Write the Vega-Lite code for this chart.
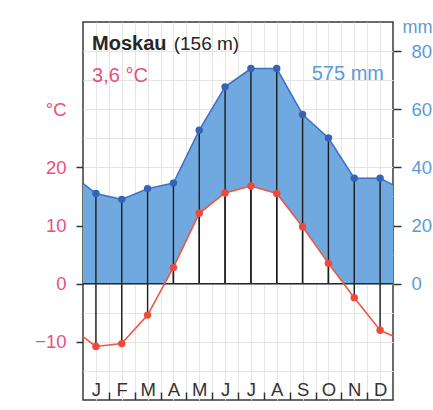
{
  "$schema": "https://vega.github.io/schema/vega-lite/v6.json",
  "width": 310,
  "height": 378,
  "autosize": "none",
  "padding": {"left": 83, "top": 22, "right": 40, "bottom": 10},
  "background": "white",
  "config": {"view": {"stroke": "#3a3a3a", "strokeWidth": 1.5}, "font": "Liberation Sans"},
  "datasets": {
    "climate": [
      {"m": 0.5, "kind": "edge", "T": -9.1, "P": 34.5},
      {"m": 1, "kind": "month", "month": "Jan", "T": -10.8, "P": 31},
      {"m": 2, "kind": "month", "month": "Feb", "T": -10.3, "P": 29},
      {"m": 3, "kind": "month", "month": "Mar", "T": -5.4, "P": 32.7},
      {"m": 4, "kind": "month", "month": "Apr", "T": 2.8, "P": 34.6},
      {"m": 5, "kind": "month", "month": "May", "T": 12.1, "P": 52.8},
      {"m": 6, "kind": "month", "month": "Jun", "T": 15.6, "P": 67.7},
      {"m": 7, "kind": "month", "month": "Jul", "T": 16.8, "P": 74},
      {"m": 8, "kind": "month", "month": "Aug", "T": 15.5, "P": 74},
      {"m": 9, "kind": "month", "month": "Sep", "T": 9.8, "P": 58.2},
      {"m": 10, "kind": "month", "month": "Oct", "T": 3.5, "P": 50.1},
      {"m": 11, "kind": "month", "month": "Nov", "T": -2.4, "P": 36.3},
      {"m": 12, "kind": "month", "month": "Dec", "T": -8.0, "P": 36.3},
      {"m": 12.5, "kind": "edge", "T": -9.0, "P": 34}
    ]
  },
  "data": {"name": "climate"},
  "layer": [
    {
      "mark": {"type": "area", "fill": "#6fa9e0", "strokeWidth": 0},
      "encoding": {
        "x": {"field": "m", "type": "quantitative", "scale": {"domain": [0.5, 12.5], "nice": false, "zero": false},
          "axis": {"values": [1, 1.5, 2, 2.5, 3, 3.5, 4, 4.5, 5, 5.5, 6, 6.5, 7, 7.5, 8, 8.5, 9, 9.5, 10, 10.5, 11, 11.5, 12], "labelExpr": "datum.value % 1 == 0 ? ['J','F','M','A','M','J','J','A','S','O','N','D'][datum.value - 1] : ''", "labelOverlap": false, "labelFlush": false, "labelPadding": 3, "labelBaseline": "alphabetic", "labelColor": "#333333", "labelFontSize": 18.5, "labelFont": "Liberation Sans", "tickSize": -8, "tickColor": "#333333", "tickWidth": 1.5, "tickOpacity": {"condition": {"test": "datum.value % 1 == 0", "value": 0}, "value": 1}, "grid": true, "gridColor": "#e4e4e4", "gridWidth": 1, "domain": false, "title": null}},
        "y": {"field": "P", "type": "quantitative", "scale": {"domain": [-40, 90], "nice": false, "zero": false},
          "axis": {"orient": "right", "values": [0, 20, 40, 60, 80], "title": "mm", "titleAngle": 0, "titleAlign": "left",
            "titleBaseline": "middle", "titleX": 9, "titleY": 5, "titleColor": "#5d9bd8", "titleFont": "Liberation Sans",
            "titleFontSize": 18, "titleFontWeight": "normal", "labelColor": "#5d9bd8", "labelFontSize": 18.5,
            "labelFont": "Liberation Sans", "labelPadding": 10, "tickSize": 8, "tickColor": "#333333", "tickWidth": 1.5,
            "domain": false, "grid": false}},
        "y2": {"datum": 0}
      }
    },
    {
      "transform": [{"filter": "datum.T > -6"}],
      "mark": {"type": "area", "fill": "white", "strokeWidth": 0},
      "encoding": {
        "x": {"field": "m", "type": "quantitative", "scale": {"domain": [0.5, 12.5], "nice": false, "zero": false},
          "axis": {"values": [1, 1.5, 2, 2.5, 3, 3.5, 4, 4.5, 5, 5.5, 6, 6.5, 7, 7.5, 8, 8.5, 9, 9.5, 10, 10.5, 11, 11.5, 12], "labelExpr": "datum.value % 1 == 0 ? ['J','F','M','A','M','J','J','A','S','O','N','D'][datum.value - 1] : ''", "labelOverlap": false, "labelFlush": false, "labelPadding": 3, "labelBaseline": "alphabetic", "labelColor": "#333333", "labelFontSize": 18.5, "labelFont": "Liberation Sans", "tickSize": -8, "tickColor": "#333333", "tickWidth": 1.5, "tickOpacity": {"condition": {"test": "datum.value % 1 == 0", "value": 0}, "value": 1}, "grid": true, "gridColor": "#e4e4e4", "gridWidth": 1, "domain": false, "title": null}},
        "y": {"field": "T", "type": "quantitative", "scale": {"domain": [-20, 45], "nice": false, "zero": false},
          "axis": {"orient": "left", "values": [-15, -10, -5, 0, 5, 10, 15, 20, 25, 30, 35, 40],
            "labelExpr": "datum.value == 30 ? '°C' : ((datum.value % 10 == 0 && datum.value <= 20) ? datum.label : '')",
            "labelOverlap": false, "labelColor": "#e8507c", "labelFontSize": 18.5, "labelFont": "Liberation Sans",
            "labelPadding": 10, "tickSize": 7, "tickColor": "#333333", "tickWidth": 1.5,
            "tickOpacity": {"condition": {"test": "datum.value % 10 != 0 || datum.value > 20", "value": 0}, "value": 1},
            "grid": true, "gridColor": "#e4e4e4", "gridWidth": 1, "domain": false, "title": null}},
        "y2": {"datum": 0}
      }
    },
    {
      "transform": [{"filter": "datum.kind == 'month'"}],
      "mark": {"type": "rule", "color": "#1c1c1c", "strokeWidth": 1.4},
      "encoding": {
        "x": {"field": "m", "type": "quantitative", "scale": {"domain": [0.5, 12.5], "nice": false, "zero": false},
          "axis": {"values": [1, 1.5, 2, 2.5, 3, 3.5, 4, 4.5, 5, 5.5, 6, 6.5, 7, 7.5, 8, 8.5, 9, 9.5, 10, 10.5, 11, 11.5, 12], "labelExpr": "datum.value % 1 == 0 ? ['J','F','M','A','M','J','J','A','S','O','N','D'][datum.value - 1] : ''", "labelOverlap": false, "labelFlush": false, "labelPadding": 3, "labelBaseline": "alphabetic", "labelColor": "#333333", "labelFontSize": 18.5, "labelFont": "Liberation Sans", "tickSize": -8, "tickColor": "#333333", "tickWidth": 1.5, "tickOpacity": {"condition": {"test": "datum.value % 1 == 0", "value": 0}, "value": 1}, "grid": true, "gridColor": "#e4e4e4", "gridWidth": 1, "domain": false, "title": null}},
        "y": {"field": "P", "type": "quantitative", "scale": {"domain": [-40, 90], "nice": false, "zero": false}, "axis": null},
        "y2": {"datum": 0}
      }
    },
    {
      "layer": [
        {
          "transform": [{"filter": "datum.kind == 'month'"}],
          "mark": {"type": "rule", "color": "#1c1c1c", "strokeWidth": 1.4},
          "encoding": {
            "x": {"field": "m", "type": "quantitative", "scale": {"domain": [0.5, 12.5], "nice": false, "zero": false},
              "axis": {"values": [1, 1.5, 2, 2.5, 3, 3.5, 4, 4.5, 5, 5.5, 6, 6.5, 7, 7.5, 8, 8.5, 9, 9.5, 10, 10.5, 11, 11.5, 12], "labelExpr": "datum.value % 1 == 0 ? ['J','F','M','A','M','J','J','A','S','O','N','D'][datum.value - 1] : ''", "labelOverlap": false, "labelFlush": false, "labelPadding": 3, "labelBaseline": "alphabetic", "labelColor": "#333333", "labelFontSize": 18.5, "labelFont": "Liberation Sans", "tickSize": -8, "tickColor": "#333333", "tickWidth": 1.5, "tickOpacity": {"condition": {"test": "datum.value % 1 == 0", "value": 0}, "value": 1}, "grid": true, "gridColor": "#e4e4e4", "gridWidth": 1, "domain": false, "title": null}},
            "y": {"field": "T", "type": "quantitative", "scale": {"domain": [-20, 45], "nice": false, "zero": false}, "axis": null},
            "y2": {"datum": 0}
          }
        },
        {
          "mark": {"type": "rule", "color": "#2a2a2a", "strokeWidth": 1.6},
          "encoding": {
            "x": {"aggregate": "min", "field": "m", "type": "quantitative", "scale": {"domain": [0.5, 12.5], "nice": false, "zero": false},
              "axis": {"values": [1, 1.5, 2, 2.5, 3, 3.5, 4, 4.5, 5, 5.5, 6, 6.5, 7, 7.5, 8, 8.5, 9, 9.5, 10, 10.5, 11, 11.5, 12], "labelExpr": "datum.value % 1 == 0 ? ['J','F','M','A','M','J','J','A','S','O','N','D'][datum.value - 1] : ''", "labelOverlap": false, "labelFlush": false, "labelPadding": 3, "labelBaseline": "alphabetic", "labelColor": "#333333", "labelFontSize": 18.5, "labelFont": "Liberation Sans", "tickSize": -8, "tickColor": "#333333", "tickWidth": 1.5, "tickOpacity": {"condition": {"test": "datum.value % 1 == 0", "value": 0}, "value": 1}, "grid": true, "gridColor": "#e4e4e4", "gridWidth": 1, "domain": false, "title": null}},
            "x2": {"aggregate": "max", "field": "m"},
            "y": {"datum": 0, "type": "quantitative", "scale": {"domain": [-20, 45], "nice": false, "zero": false}, "axis": null}
          }
        }
      ]
    },
    {
      "layer": [
        {
          "mark": {"type": "line", "color": "#3d6fc6", "strokeWidth": 1.5},
          "encoding": {
            "x": {"field": "m", "type": "quantitative", "scale": {"domain": [0.5, 12.5], "nice": false, "zero": false},
              "axis": {"values": [1, 1.5, 2, 2.5, 3, 3.5, 4, 4.5, 5, 5.5, 6, 6.5, 7, 7.5, 8, 8.5, 9, 9.5, 10, 10.5, 11, 11.5, 12], "labelExpr": "datum.value % 1 == 0 ? ['J','F','M','A','M','J','J','A','S','O','N','D'][datum.value - 1] : ''", "labelOverlap": false, "labelFlush": false, "labelPadding": 3, "labelBaseline": "alphabetic", "labelColor": "#333333", "labelFontSize": 18.5, "labelFont": "Liberation Sans", "tickSize": -8, "tickColor": "#333333", "tickWidth": 1.5, "tickOpacity": {"condition": {"test": "datum.value % 1 == 0", "value": 0}, "value": 1}, "grid": true, "gridColor": "#e4e4e4", "gridWidth": 1, "domain": false, "title": null}},
            "y": {"field": "P", "type": "quantitative", "scale": {"domain": [-40, 90], "nice": false, "zero": false}, "axis": null}
          }
        },
        {
          "transform": [{"filter": "datum.kind == 'month'"}],
          "mark": {"type": "circle", "color": "#3563b8", "size": 55, "opacity": 1},
          "encoding": {
            "x": {"field": "m", "type": "quantitative", "scale": {"domain": [0.5, 12.5], "nice": false, "zero": false},
              "axis": {"values": [1, 1.5, 2, 2.5, 3, 3.5, 4, 4.5, 5, 5.5, 6, 6.5, 7, 7.5, 8, 8.5, 9, 9.5, 10, 10.5, 11, 11.5, 12], "labelExpr": "datum.value % 1 == 0 ? ['J','F','M','A','M','J','J','A','S','O','N','D'][datum.value - 1] : ''", "labelOverlap": false, "labelFlush": false, "labelPadding": 3, "labelBaseline": "alphabetic", "labelColor": "#333333", "labelFontSize": 18.5, "labelFont": "Liberation Sans", "tickSize": -8, "tickColor": "#333333", "tickWidth": 1.5, "tickOpacity": {"condition": {"test": "datum.value % 1 == 0", "value": 0}, "value": 1}, "grid": true, "gridColor": "#e4e4e4", "gridWidth": 1, "domain": false, "title": null}},
            "y": {"field": "P", "type": "quantitative", "scale": {"domain": [-40, 90], "nice": false, "zero": false}, "axis": null}
          }
        }
      ]
    },
    {
      "layer": [
        {
          "mark": {"type": "line", "color": "#f2553f", "strokeWidth": 1.6},
          "encoding": {
            "x": {"field": "m", "type": "quantitative", "scale": {"domain": [0.5, 12.5], "nice": false, "zero": false},
              "axis": {"values": [1, 1.5, 2, 2.5, 3, 3.5, 4, 4.5, 5, 5.5, 6, 6.5, 7, 7.5, 8, 8.5, 9, 9.5, 10, 10.5, 11, 11.5, 12], "labelExpr": "datum.value % 1 == 0 ? ['J','F','M','A','M','J','J','A','S','O','N','D'][datum.value - 1] : ''", "labelOverlap": false, "labelFlush": false, "labelPadding": 3, "labelBaseline": "alphabetic", "labelColor": "#333333", "labelFontSize": 18.5, "labelFont": "Liberation Sans", "tickSize": -8, "tickColor": "#333333", "tickWidth": 1.5, "tickOpacity": {"condition": {"test": "datum.value % 1 == 0", "value": 0}, "value": 1}, "grid": true, "gridColor": "#e4e4e4", "gridWidth": 1, "domain": false, "title": null}},
            "y": {"field": "T", "type": "quantitative", "scale": {"domain": [-20, 45], "nice": false, "zero": false}, "axis": null}
          }
        },
        {
          "transform": [{"filter": "datum.kind == 'month'"}],
          "mark": {"type": "circle", "color": "#ee4a3c", "size": 55, "opacity": 1},
          "encoding": {
            "x": {"field": "m", "type": "quantitative", "scale": {"domain": [0.5, 12.5], "nice": false, "zero": false},
              "axis": {"values": [1, 1.5, 2, 2.5, 3, 3.5, 4, 4.5, 5, 5.5, 6, 6.5, 7, 7.5, 8, 8.5, 9, 9.5, 10, 10.5, 11, 11.5, 12], "labelExpr": "datum.value % 1 == 0 ? ['J','F','M','A','M','J','J','A','S','O','N','D'][datum.value - 1] : ''", "labelOverlap": false, "labelFlush": false, "labelPadding": 3, "labelBaseline": "alphabetic", "labelColor": "#333333", "labelFontSize": 18.5, "labelFont": "Liberation Sans", "tickSize": -8, "tickColor": "#333333", "tickWidth": 1.5, "tickOpacity": {"condition": {"test": "datum.value % 1 == 0", "value": 0}, "value": 1}, "grid": true, "gridColor": "#e4e4e4", "gridWidth": 1, "domain": false, "title": null}},
            "y": {"field": "T", "type": "quantitative", "scale": {"domain": [-20, 45], "nice": false, "zero": false}, "axis": null}
          }
        },
        {
          "data": {"values": [{}]},
          "mark": {"type": "text", "text": "Moskau", "align": "left", "baseline": "alphabetic", "fontSize": 20, "fontWeight": "bold", "color": "#262626"},
          "encoding": {
            "x": {"datum": 0.85, "type": "quantitative", "scale": {"domain": [0.5, 12.5], "nice": false, "zero": false},
              "axis": {"values": [1, 1.5, 2, 2.5, 3, 3.5, 4, 4.5, 5, 5.5, 6, 6.5, 7, 7.5, 8, 8.5, 9, 9.5, 10, 10.5, 11, 11.5, 12], "labelExpr": "datum.value % 1 == 0 ? ['J','F','M','A','M','J','J','A','S','O','N','D'][datum.value - 1] : ''", "labelOverlap": false, "labelFlush": false, "labelPadding": 3, "labelBaseline": "alphabetic", "labelColor": "#333333", "labelFontSize": 18.5, "labelFont": "Liberation Sans", "tickSize": -8, "tickColor": "#333333", "tickWidth": 1.5, "tickOpacity": {"condition": {"test": "datum.value % 1 == 0", "value": 0}, "value": 1}, "grid": true, "gridColor": "#e4e4e4", "gridWidth": 1, "domain": false, "title": null}},
            "y": {"datum": 40.2, "type": "quantitative", "scale": {"domain": [-20, 45], "nice": false, "zero": false}, "axis": null}
          }
        },
        {
          "data": {"values": [{}]},
          "mark": {"type": "text", "text": "(156 m)", "align": "left", "baseline": "alphabetic", "fontSize": 19, "color": "#262626"},
          "encoding": {
            "x": {"datum": 4.01, "type": "quantitative", "scale": {"domain": [0.5, 12.5], "nice": false, "zero": false},
              "axis": {"values": [1, 1.5, 2, 2.5, 3, 3.5, 4, 4.5, 5, 5.5, 6, 6.5, 7, 7.5, 8, 8.5, 9, 9.5, 10, 10.5, 11, 11.5, 12], "labelExpr": "datum.value % 1 == 0 ? ['J','F','M','A','M','J','J','A','S','O','N','D'][datum.value - 1] : ''", "labelOverlap": false, "labelFlush": false, "labelPadding": 3, "labelBaseline": "alphabetic", "labelColor": "#333333", "labelFontSize": 18.5, "labelFont": "Liberation Sans", "tickSize": -8, "tickColor": "#333333", "tickWidth": 1.5, "tickOpacity": {"condition": {"test": "datum.value % 1 == 0", "value": 0}, "value": 1}, "grid": true, "gridColor": "#e4e4e4", "gridWidth": 1, "domain": false, "title": null}},
            "y": {"datum": 40.2, "type": "quantitative", "scale": {"domain": [-20, 45], "nice": false, "zero": false}, "axis": null}
          }
        },
        {
          "data": {"values": [{}]},
          "mark": {"type": "text", "text": "3,6 °C", "align": "left", "baseline": "alphabetic", "fontSize": 20, "color": "#e8507c"},
          "encoding": {
            "x": {"datum": 0.85, "type": "quantitative", "scale": {"domain": [0.5, 12.5], "nice": false, "zero": false},
              "axis": {"values": [1, 1.5, 2, 2.5, 3, 3.5, 4, 4.5, 5, 5.5, 6, 6.5, 7, 7.5, 8, 8.5, 9, 9.5, 10, 10.5, 11, 11.5, 12], "labelExpr": "datum.value % 1 == 0 ? ['J','F','M','A','M','J','J','A','S','O','N','D'][datum.value - 1] : ''", "labelOverlap": false, "labelFlush": false, "labelPadding": 3, "labelBaseline": "alphabetic", "labelColor": "#333333", "labelFontSize": 18.5, "labelFont": "Liberation Sans", "tickSize": -8, "tickColor": "#333333", "tickWidth": 1.5, "tickOpacity": {"condition": {"test": "datum.value % 1 == 0", "value": 0}, "value": 1}, "grid": true, "gridColor": "#e4e4e4", "gridWidth": 1, "domain": false, "title": null}},
            "y": {"datum": 34.6, "type": "quantitative", "scale": {"domain": [-20, 45], "nice": false, "zero": false}, "axis": null}
          }
        },
        {
          "data": {"values": [{}]},
          "mark": {"type": "text", "text": "575 mm", "align": "right", "baseline": "alphabetic", "fontSize": 20, "color": "#5d9bd8"},
          "encoding": {
            "x": {"datum": 12.15, "type": "quantitative", "scale": {"domain": [0.5, 12.5], "nice": false, "zero": false},
              "axis": {"values": [1, 1.5, 2, 2.5, 3, 3.5, 4, 4.5, 5, 5.5, 6, 6.5, 7, 7.5, 8, 8.5, 9, 9.5, 10, 10.5, 11, 11.5, 12], "labelExpr": "datum.value % 1 == 0 ? ['J','F','M','A','M','J','J','A','S','O','N','D'][datum.value - 1] : ''", "labelOverlap": false, "labelFlush": false, "labelPadding": 3, "labelBaseline": "alphabetic", "labelColor": "#333333", "labelFontSize": 18.5, "labelFont": "Liberation Sans", "tickSize": -8, "tickColor": "#333333", "tickWidth": 1.5, "tickOpacity": {"condition": {"test": "datum.value % 1 == 0", "value": 0}, "value": 1}, "grid": true, "gridColor": "#e4e4e4", "gridWidth": 1, "domain": false, "title": null}},
            "y": {"datum": 35.0, "type": "quantitative", "scale": {"domain": [-20, 45], "nice": false, "zero": false}, "axis": null}
          }
        }
      ]
    }
  ],
  "resolve": {"scale": {"y": "independent"}}
}
